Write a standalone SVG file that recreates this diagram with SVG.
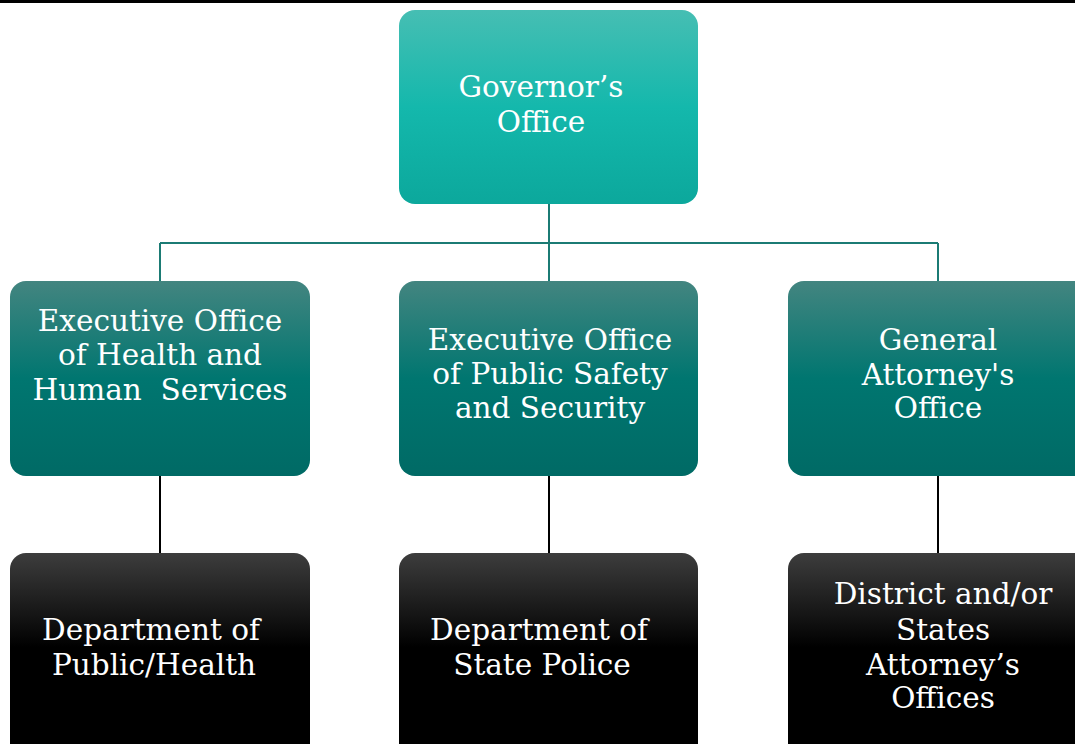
<svg xmlns="http://www.w3.org/2000/svg" width="1075" height="744" viewBox="0 0 1075 744">
<style>
text{font-family:"DejaVu Serif","Liberation Serif",serif;font-size:29.5px;fill:#fff;text-anchor:middle}
.tl{stroke:#1b7b74;stroke-width:2;fill:none}
.bl{stroke:#000;stroke-width:2;fill:none}
</style>
<defs>
<linearGradient id="gTop" x1="0" y1="0" x2="0" y2="1">
<stop offset="0" stop-color="#46beb3"/><stop offset="0.5" stop-color="#14b8ac"/><stop offset="1" stop-color="#0ca89c"/>
</linearGradient>
<linearGradient id="gMid" x1="0" y1="0" x2="0" y2="1">
<stop offset="0" stop-color="#438580"/><stop offset="0.5" stop-color="#007670"/><stop offset="1" stop-color="#006a65"/>
</linearGradient>
<linearGradient id="gBot" x1="0" y1="0" x2="0" y2="1">
<stop offset="0" stop-color="#3d3d3d"/><stop offset="0.45" stop-color="#000"/><stop offset="1" stop-color="#000"/>
</linearGradient>
</defs>
<rect x="0" y="0" width="1075" height="744" fill="#fff"/>
<rect x="0" y="0" width="1075" height="3" fill="#000"/>
<g id="connectors">
<path class="tl" d="M549 204V243M160 243H938M160 243V281M549 243V281M938 243V281"/>
<path class="bl" d="M160 476V553M549 476V553M938 476V553"/>
</g>
<g id="governor">
<rect x="399" y="10" width="299" height="194" rx="16" fill="url(#gTop)"/>
<text x="541" y="97">Governor’s</text>
<text x="541" y="132">Office</text>
</g>
<g id="health">
<rect x="10" y="281" width="300" height="195" rx="16" fill="url(#gMid)"/>
<text x="160" y="331">Executive Office</text>
<text x="160" y="365">of Health and</text>
<text x="160" y="400">Human&#160; Services</text>
</g>
<g id="publicsafety">
<rect x="399" y="281" width="299" height="195" rx="16" fill="url(#gMid)"/>
<text x="550" y="350">Executive Office</text>
<text x="550" y="384">of Public Safety</text>
<text x="550" y="418">and Security</text>
</g>
<g id="attorney">
<rect x="788" y="281" width="310" height="195" rx="16" fill="url(#gMid)"/>
<text x="938" y="350">General</text>
<text x="938" y="385">Attorney's</text>
<text x="938" y="418">Office</text>
</g>
<g id="dph">
<rect x="10" y="553" width="300" height="210" rx="16" fill="url(#gBot)"/>
<text x="151" y="640">Department of</text>
<text x="154" y="675">Public/Health</text>
</g>
<g id="dsp">
<rect x="399" y="553" width="299" height="210" rx="16" fill="url(#gBot)"/>
<text x="539" y="640">Department of</text>
<text x="542" y="675">State Police</text>
</g>
<g id="district">
<rect x="788" y="553" width="310" height="210" rx="16" fill="url(#gBot)"/>
<text x="943" y="604">District and/or</text>
<text x="943" y="640">States</text>
<text x="943" y="675">Attorney’s</text>
<text x="943" y="708">Offices</text>
</g>
</svg>
